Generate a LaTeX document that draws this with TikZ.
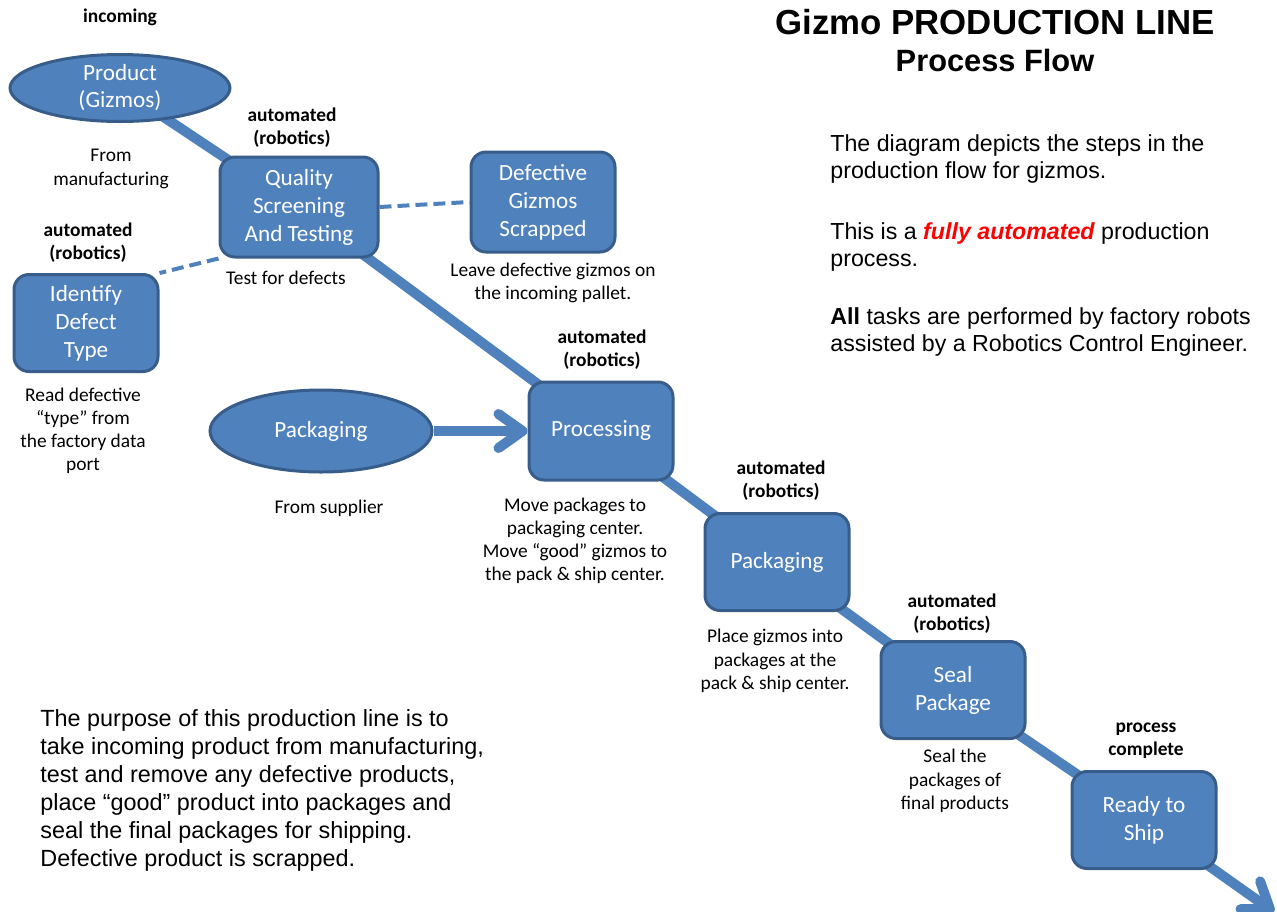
\documentclass[tikz,border=0pt]{standalone}
\usepackage{fontspec}
\setmainfont{Carlito}
\newfontfamily\arialfont[Ligatures=TeX]{Liberation Sans}
\usetikzlibrary{shapes.geometric, arrows.meta, positioning, backgrounds}
\definecolor{boxfill}{HTML}{4F81BD}
\definecolor{boxline}{HTML}{385D8A}

\begin{document}
\begin{tikzpicture}[x=0.5pt, y=-0.5pt,
  stage/.style={rectangle, rounded corners=7.5pt, draw=boxline, line width=1.5pt, fill=boxfill, text=white, align=center, minimum width=72pt, minimum height=49pt, inner sep=2pt, font=\fontsize{11.6}{14}\selectfont},
  supply/.style={ellipse, draw=boxline, line width=1.5pt, fill=boxfill, text=white, align=center, inner sep=0pt, font=\fontsize{11.6}{13.5}\selectfont},
  note/.style={align=center, font=\fontsize{9.7}{11.6}\selectfont},
  tag/.style={align=center, font=\bfseries\fontsize{9.7}{11.6}\selectfont},
  para/.style={anchor=west, align=left, inner sep=0pt, font=\arialfont\fontsize{11.6}{13.7}\selectfont},
  flow/.style={line width=5pt, draw=boxfill},
  side/.style={line width=2pt, draw=boxfill, dash pattern=on 6pt off 3pt},
  barb/.style={-{Straight Barb[length=12pt, width=17pt, round]}}
]
\useasboundingbox (0,0) rectangle (1277,911);

% process stages
\node[supply, minimum width=110pt, minimum height=33.5pt] (product) at (120,88) {Product\\(Gizmos)};
\node[stage, minimum width=79pt, minimum height=50pt] (quality) at (299,207) {Quality\\Screening\\And Testing};
\node[stage, minimum height=50pt] (scrap) at (543,202) {Defective\\Gizmos\\Scrapped};
\node[stage, minimum height=48.5pt] (defect) at (86,323) {Identify\\Defect\\Type};
\node[supply, minimum width=111pt, minimum height=41pt] (boxes) at (321,431) {Packaging};
\node[stage] (processing) at (601,431) {Processing};
\node[stage, minimum height=48.5pt] (packaging) at (777,562) {Packaging};
\node[stage, minimum height=48.5pt] (seal) at (953,690) {Seal\\Package};
\node[stage, minimum height=48.5pt] (ready) at (1144,820) {Ready to\\Ship};
\coordinate (out) at (1274,912);

% labels
\node[tag] (t0) at (120,17) {incoming};
\node[note] (n0) at (111,169) {From\\manufacturing};
\node[tag] (t1) at (292,128) {automated\\(robotics)};
\node[note] (n1) at (286,278) {Test for defects};
\node[note] (n2) at (553,283) {Leave defective gizmos on\\the incoming pallet.};
\node[tag] (t2) at (88,243) {automated\\(robotics)};
\node[note] (n3) at (83,431) {Read defective\\``type'' from\\the factory data\\port};
\node[note] (n4) at (329,508) {From supplier};
\node[tag] (t3) at (602,350) {automated\\(robotics)};
\node[note] (n5) at (575,541) {Move packages to\\packaging center.\\Move ``good'' gizmos to\\the pack \& ship center.};
\node[tag] (t4) at (781,481) {automated\\(robotics)};
\node[note] (n6) at (775,661) {Place gizmos into\\packages at the\\pack \& ship center.};
\node[tag] (t5) at (952,614) {automated\\(robotics)};
\node[note] (n7) at (955,781) {Seal the\\packages of\\final products};
\node[tag] (t6) at (1146,741) {process\\complete};

% title and text
\node[font=\arialfont\bfseries\fontsize{17.4}{20}\selectfont] (title) at (995,22) {Gizmo PRODUCTION LINE};
\node[font=\arialfont\bfseries\fontsize{15.4}{18}\selectfont] (subtitle) at (995,60) {Process Flow};
\node[para] (p1) at (830,159) {The diagram depicts the steps in the\\production flow for gizmos.};
\node[para] (p2) at (830,247) {This is a \textcolor{red}{\bfseries\itshape fully automated} production\\process.};
\node[para] (p3) at (830,332) {\textbf{All} tasks are performed by factory robots\\assisted by a Robotics Control Engineer.};
\node[para, font=\arialfont\fontsize{11.7}{14}\selectfont] (purpose) at (40,790) {The purpose of this production line is to\\take incoming product from manufacturing,\\test and remove any defective products,\\place ``good'' product into packages and\\seal the final packages for shipping.\\Defective product is scrapped.};

% connectors
\begin{scope}[on background layer]
\draw[flow] (product.center) -- (quality.center);
\draw[flow] (quality.center) -- (processing.center);
\draw[flow] (processing.center) -- (packaging.center);
\draw[flow] (packaging.center) -- (seal.center);
\draw[flow] (seal.center) -- (ready.center);
\draw[flow, barb] (ready.center) -- (out);
\end{scope}
\draw[flow, barb] (boxes) -- (processing);
\draw[side] (quality.east) -- (scrap.west);
\draw[side] (quality.south west) -- (defect.north east);
\end{tikzpicture}
\end{document}
